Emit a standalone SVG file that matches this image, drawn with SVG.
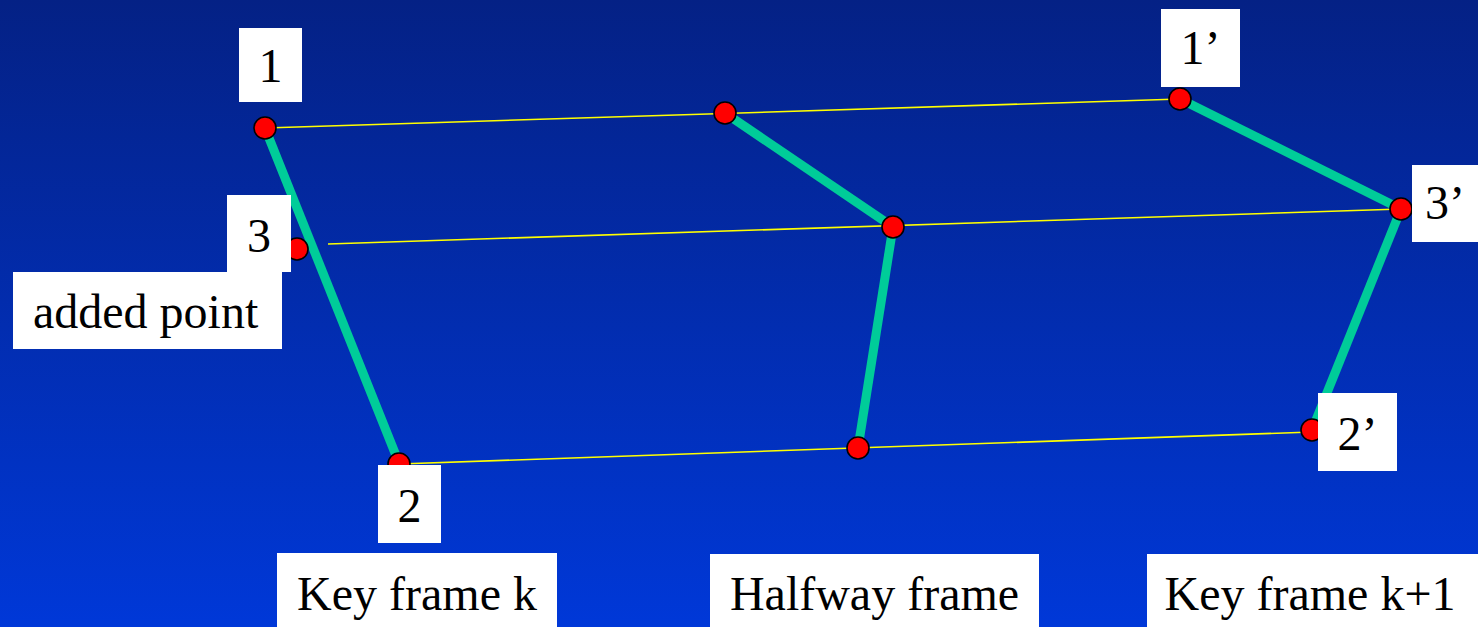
<svg xmlns="http://www.w3.org/2000/svg" width="1478" height="627" viewBox="0 0 1478 627">
<style>
.box{fill:#fff}
.lbl{font-family:"Liberation Serif","Times New Roman",serif;font-size:48px;fill:#000}
.mid{text-anchor:middle}
.yl{stroke:#ffff00;stroke-width:1.6;fill:none}
.gr{stroke:#00cc99;stroke-width:9;fill:none}
.pt{fill:#ff0000;stroke:#000;stroke-width:1.6}
</style>
<defs>
<linearGradient id="bg" x1="0" y1="0" x2="0" y2="1">
<stop offset="0" stop-color="#042185"/>
<stop offset="1" stop-color="#0038d8"/>
</linearGradient>
</defs>
<rect width="1478" height="627" fill="url(#bg)"/>
<g id="connectors">
<line class="yl" x1="265" y1="128" x2="1180" y2="99"/>
<line class="yl" x1="328" y1="244" x2="1401" y2="209"/>
<line class="yl" x1="399" y1="464" x2="1312" y2="432"/>
<line class="gr" x1="265" y1="128" x2="399" y2="463"/>
<line class="gr" x1="725" y1="113" x2="893" y2="227"/>
<line class="gr" x1="893" y1="227" x2="858" y2="448"/>
<line class="gr" x1="1180" y1="99" x2="1401" y2="209"/>
<line class="gr" x1="1401" y1="209" x2="1312" y2="430"/>
</g>
<g id="p1"><circle class="pt" cx="265" cy="128" r="11"/><rect class="box" x="239" y="28" width="63" height="74"/><text class="lbl mid" x="270.5" y="82">1</text></g>
<g id="p3"><circle class="pt" cx="297" cy="249" r="11"/><rect class="box" x="227" y="195" width="64" height="77"/><text class="lbl mid" x="259" y="252">3</text></g>
<g id="added"><rect class="box" x="13" y="272" width="269" height="77"/><text class="lbl" x="33" y="328">added point</text></g>
<g id="p2"><circle class="pt" cx="399" cy="464" r="11"/><rect class="box" x="378" y="465" width="63" height="78"/><text class="lbl mid" x="409.5" y="522">2</text></g>
<g id="h1"><circle class="pt" cx="725" cy="113" r="11"/></g>
<g id="h3"><circle class="pt" cx="893" cy="227" r="11"/></g>
<g id="h2"><circle class="pt" cx="858" cy="448" r="11"/></g>
<g id="p1b"><circle class="pt" cx="1180" cy="99" r="11"/><rect class="box" x="1161" y="9" width="79" height="78"/><text class="lbl mid" x="1200.5" y="64">1’</text></g>
<g id="p3b"><circle class="pt" cx="1401" cy="209" r="11"/><rect class="box" x="1412" y="165" width="66" height="77"/><text class="lbl mid" x="1445" y="219">3’</text></g>
<g id="p2b"><circle class="pt" cx="1312" cy="430" r="11"/><rect class="box" x="1318" y="393" width="79" height="78"/><text class="lbl mid" x="1357.5" y="450">2’</text></g>
<g id="kf"><rect class="box" x="277" y="553" width="280" height="74"/><text class="lbl mid" x="417" y="610">Key frame k</text></g>
<g id="hf"><rect class="box" x="710" y="554" width="329" height="73"/><text class="lbl mid" x="874.5" y="610">Halfway frame</text></g>
<g id="kf1"><rect class="box" x="1147" y="554" width="331" height="73"/><text class="lbl mid" x="1310" y="610">Key frame k+1</text></g>
</svg>
